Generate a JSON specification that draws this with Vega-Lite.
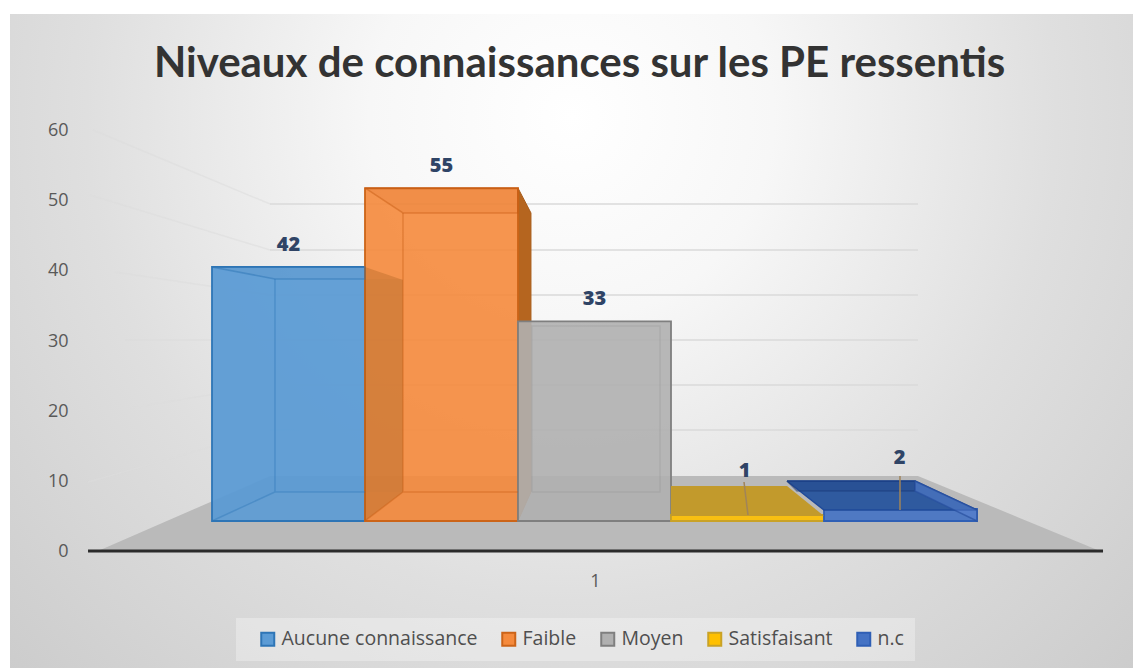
{
"$schema":"https://vega.github.io/schema/vega-lite/v6.json",
"width":1123,"height":654,
"autosize":{"type":"none"},
"padding":{"left":10,"top":14,"right":0,"bottom":0},
"background":"#ffffff",
"view":{"stroke":null,"fill":{"gradient":"radial","x1":0.5,"y1":0.3,"r1":0,"x2":0.5,"y2":0.3,"r2":0.72,"stops":[{"offset":0,"color":"#ffffff"},{"offset":0.25,"color":"#f7f7f7"},{"offset":0.6,"color":"#dfdfdf"},{"offset":0.8,"color":"#d5d5d5"},{"offset":1,"color":"#cbcbcb"}]}},
"title":{"text":"Niveaux de connaissances sur les PE ressentis","anchor":"middle","frame":"group","dx":8,"offset":-72,"font":"Lato","fontSize":42,"fontWeight":"bold","color":"#333333"},
"datasets":{
"barres":[
{"niveau":"Aucune connaissance","valeur":42},
{"niveau":"Faible","valeur":55},
{"niveau":"Moyen","valeur":33},
{"niveau":"Satisfaisant","valeur":1},
{"niveau":"n.c","valeur":2}],
"grille":[
{"g":60,"u":0.5752,"v":49.57},{"g":60,"u":1.4222,"v":49.57},
{"g":50,"u":0.5752,"v":43},{"g":50,"u":1.4222,"v":43},
{"g":40,"u":0.5752,"v":36.57},{"g":40,"u":1.4222,"v":36.57},
{"g":30,"u":0.5752,"v":30.14},{"g":30,"u":1.4222,"v":30.14},
{"g":20,"u":0.5752,"v":23.71},{"g":20,"u":1.4222,"v":23.71},
{"g":10,"u":0.5752,"v":17.29},{"g":10,"u":1.4222,"v":17.29}],
"fuyantes":[
{"g":60,"u":0.3438,"v":60.14},{"g":60,"u":0.5752,"v":49.57},
{"g":50,"u":0.3399,"v":50.86},{"g":50,"u":0.5752,"v":43},
{"g":40,"u":0.3725,"v":39.86},{"g":40,"u":0.5752,"v":36.57},
{"g":30,"u":0.3856,"v":30.14},{"g":30,"u":0.5752,"v":30.14},
{"g":20,"u":0.3922,"v":20.43},{"g":20,"u":0.5752,"v":23.71},
{"g":10,"u":0.3373,"v":9.86},{"g":10,"u":0.5752,"v":17.29}],
"fond":[
{"f":"sol","o":0,"u":0.3503,"v":0},{"f":"sol","o":1,"u":0.5752,"v":10.71},{"f":"sol","o":2,"u":1.4222,"v":10.71},{"f":"sol","o":3,"u":1.6601,"v":0},{"f":"sol","o":4,"u":0.3503,"v":0},
{"f":"fond bleu","o":0,"u":0.5817,"v":38.86},{"f":"fond bleu","o":1,"u":0.749,"v":38.86},{"f":"fond bleu","o":2,"u":0.749,"v":8.43},{"f":"fond bleu","o":3,"u":0.5817,"v":8.43},{"f":"fond bleu","o":4,"u":0.5817,"v":38.86},
{"f":"flanc bleu","o":0,"u":0.4993,"v":40.57},{"f":"flanc bleu","o":1,"u":0.5817,"v":38.86},{"f":"flanc bleu","o":2,"u":0.5817,"v":8.43},{"f":"flanc bleu","o":3,"u":0.4993,"v":4.29},{"f":"flanc bleu","o":4,"u":0.4993,"v":40.57},
{"f":"flanc orange","o":0,"u":0.8993,"v":51.86},{"f":"flanc orange","o":1,"u":0.9163,"v":48.29},{"f":"flanc orange","o":2,"u":0.9163,"v":8.43},{"f":"flanc orange","o":3,"u":0.8993,"v":4.29},{"f":"flanc orange","o":4,"u":0.8993,"v":51.86}],
"dessus":[
{"f":"haut bleu","o":0,"u":0.4993,"v":40.57},{"f":"haut bleu","o":1,"u":0.6993,"v":40.57},{"f":"haut bleu","o":2,"u":0.6993,"v":38.86},{"f":"haut bleu","o":3,"u":0.5817,"v":38.86},{"f":"haut bleu","o":4,"u":0.4993,"v":40.57},
{"f":"arete bleu","o":0,"u":0.4993,"v":4.29},{"f":"arete bleu","o":1,"u":0.5817,"v":8.43},{"f":"arete bleu","o":2,"u":0.5817,"v":38.86},{"f":"arete bleu","o":3,"u":0.5817,"v":8.43},{"f":"arete bleu","o":4,"u":0.6993,"v":8.43},
{"f":"ombre orange","o":0,"u":0.6993,"v":40.57},{"f":"ombre orange","o":1,"u":0.749,"v":38.71},{"f":"ombre orange","o":2,"u":0.749,"v":8.43},{"f":"ombre orange","o":3,"u":0.6993,"v":4.29},{"f":"ombre orange","o":4,"u":0.6993,"v":40.57},
{"f":"haut orange","o":0,"u":0.6993,"v":51.86},{"f":"haut orange","o":1,"u":0.8993,"v":51.86},{"f":"haut orange","o":2,"u":0.8993,"v":48.29},{"f":"haut orange","o":3,"u":0.749,"v":48.29},{"f":"haut orange","o":4,"u":0.6993,"v":51.86},
{"f":"arete orange","o":0,"u":0.6993,"v":4.29},{"f":"arete orange","o":1,"u":0.749,"v":8.43},{"f":"arete orange","o":2,"u":0.749,"v":48.29},{"f":"arete orange","o":3,"u":0.749,"v":8.43},{"f":"arete orange","o":4,"u":0.8993,"v":8.43},
{"f":"arete gris","o":0,"u":0.9176,"v":8.43},{"f":"arete gris","o":1,"u":0.9176,"v":32.14},{"f":"arete gris","o":2,"u":1.085,"v":32.14},{"f":"arete gris","o":3,"u":1.085,"v":8.43},{"f":"arete gris","o":4,"u":0.9176,"v":8.43},
{"f":"haut jaune","o":0,"u":1.0993,"v":5},{"f":"haut jaune","o":1,"u":1.2993,"v":5},{"f":"haut jaune","o":2,"u":1.251,"v":9.29},{"f":"haut jaune","o":3,"u":1.0993,"v":9.29},{"f":"haut jaune","o":4,"u":1.0993,"v":5},
{"f":"haut nc","o":0,"u":1.251,"v":10},{"f":"haut nc","o":1,"u":1.4183,"v":10},{"f":"haut nc","o":2,"u":1.4993,"v":5.86},{"f":"haut nc","o":3,"u":1.2993,"v":5.86},{"f":"haut nc","o":4,"u":1.251,"v":10},
{"f":"fond nc","o":0,"u":1.251,"v":10},{"f":"fond nc","o":1,"u":1.4183,"v":10},{"f":"fond nc","o":2,"u":1.4183,"v":8.57},{"f":"fond nc","o":3,"u":1.2641,"v":8.57},{"f":"fond nc","o":4,"u":1.251,"v":10},
{"f":"flanc nc","o":0,"u":1.4183,"v":10},{"f":"flanc nc","o":1,"u":1.4993,"v":5.86},{"f":"flanc nc","o":2,"u":1.4993,"v":4.29},{"f":"flanc nc","o":3,"u":1.4183,"v":8.57},{"f":"flanc nc","o":4,"u":1.4183,"v":10},
{"f":"repere 1","o":0,"u":1.1948,"v":9.86},{"f":"repere 1","o":1,"u":1.2,"v":5.14},
{"f":"repere 2","o":0,"u":1.3987,"v":10.71},{"f":"repere 2","o":1,"u":1.3987,"v":5.86}],
"axe":[{"u":0.3373,"v":0},{"u":1.6641,"v":0}]
},
"resolve":{"scale":{"x":"independent","y":"independent","fill":"independent","stroke":"independent"}},
"layer":[
{"data":{"name":"grille"},
 "mark":{"type":"line","strokeWidth":1.6,"color":"#dadada","clip":false},
 "encoding":{
  "x":{"field":"u","type":"quantitative","scale":{"domain":[0.2353,1.7033],"nice":false,"zero":false},"title":null,
   "axis":{"values":[1],"format":"d","orient":"bottom","offset":-96,"domain":false,"ticks":false,"grid":false,"labelPadding":0,"labelFont":"Open Sans","labelFontSize":18,"labelColor":"#595959","labelBaseline":"top"}},
  "y":{"field":"v","type":"quantitative","scale":{"domain":[-16.714,76.714],"nice":false,"zero":false},"title":null,
   "axis":{"values":[0,10,20,30,40,50,60],"orient":"left","offset":-63,"domain":false,"ticks":false,"grid":false,"labelPadding":5,"labelFont":"Open Sans","labelFontSize":18,"labelColor":"#595959"}},
  "detail":{"field":"g"}}},
{"data":{"name":"fuyantes"},
 "mark":{"type":"line","strokeWidth":1.4,"color":"#dcdcdc","opacity":0.55,"clip":false},
 "encoding":{
  "x":{"field":"u","type":"quantitative","scale":{"domain":[0.2353,1.7033],"nice":false,"zero":false},"axis":null},
  "y":{"field":"v","type":"quantitative","scale":{"domain":[-16.714,76.714],"nice":false,"zero":false},"axis":null},
  "detail":{"field":"g"}}},
{"data":{"name":"fond"},
 "mark":{"type":"line","strokeWidth":1,"clip":false},
 "encoding":{
  "x":{"field":"u","type":"quantitative","scale":{"domain":[0.2353,1.7033],"nice":false,"zero":false},"axis":null},
  "y":{"field":"v","type":"quantitative","scale":{"domain":[-16.714,76.714],"nice":false,"zero":false},"axis":null},
  "detail":{"field":"f"},"order":{"field":"o"},
  "fill":{"field":"f","type":"nominal","legend":null,"scale":{"domain":["sol","fond bleu","flanc bleu","flanc orange"],"range":["#bababa","rgba(70,130,190,0.35)","rgba(70,130,190,0.35)","#b5651f"]}},
  "stroke":{"field":"f","type":"nominal","legend":null,"scale":{"domain":["sol","fond bleu","flanc bleu","flanc orange"],"range":["rgba(0,0,0,0)","rgba(0,0,0,0)","rgba(0,0,0,0)","#a85c1a"]}}}},
{"data":{"name":"axe"},
 "mark":{"type":"line","strokeWidth":3,"color":"#2b2b2b","clip":false},
 "encoding":{
  "x":{"field":"u","type":"quantitative","scale":{"domain":[0.2353,1.7033],"nice":false,"zero":false},"axis":null},
  "y":{"field":"v","type":"quantitative","scale":{"domain":[-16.714,76.714],"nice":false,"zero":false},"axis":null}}},
{"data":{"name":"barres"},
 "mark":{"type":"bar","fillOpacity":0.9,"strokeWidth":1.8,"strokeOpacity":1,"clip":false},
 "encoding":{
  "x":{"field":"niveau","type":"nominal","sort":null,"axis":null,"scale":{"domain":["Aucune connaissance","Faible","Moyen","Satisfaisant","n.c"],"range":[202,967],"paddingInner":0,"paddingOuter":0}},
  "y":{"field":"valeur","type":"quantitative","axis":null,"scale":{"domain":[-24.3,83.8],"nice":false,"zero":false}},
  "fill":{"field":"niveau","type":"nominal","sort":null,"title":null,
   "scale":{"domain":["Aucune connaissance","Faible","Moyen","Satisfaisant","n.c"],"range":["#5b9bd5","#f58a3c","#b0b0b0","#ffc000","#4472c4"]},
   "legend":{"orient":"none","legendX":226,"legendY":604,"direction":"horizontal","columns":5,"symbolType":"square","symbolSize":169,"symbolStrokeWidth":2,"symbolOpacity":1,"symbolOffset":11,"labelFont":"Open Sans","labelFontSize":19.5,"labelLimit":300,"labelColor":"#4f4f4f","labelOffset":4,"columnPadding":10,"padding":11,"fillColor":"rgba(255,255,255,0.3)"}},
  "stroke":{"field":"niveau","type":"nominal","sort":null,"title":null,
   "scale":{"domain":["Aucune connaissance","Faible","Moyen","Satisfaisant","n.c"],"range":["#2e75b6","#cc6418","#7f7f7f","#c9a227","#2f5fb5"]},
   "legend":{"orient":"none","legendX":226,"legendY":604,"direction":"horizontal","columns":5,"symbolType":"square","symbolSize":169,"symbolStrokeWidth":2,"symbolOpacity":1,"symbolOffset":11,"labelFont":"Open Sans","labelFontSize":19.5,"labelLimit":300,"labelColor":"#4f4f4f","labelOffset":4,"columnPadding":10,"padding":11,"fillColor":"rgba(255,255,255,0.3)"}}}},
{"data":{"name":"dessus"},
 "mark":{"type":"line","strokeWidth":1.5,"clip":false},
 "encoding":{
  "x":{"field":"u","type":"quantitative","scale":{"domain":[0.2353,1.7033],"nice":false,"zero":false},"axis":null},
  "y":{"field":"v","type":"quantitative","scale":{"domain":[-16.714,76.714],"nice":false,"zero":false},"axis":null},
  "detail":{"field":"f"},"order":{"field":"o"},
  "fill":{"field":"f","type":"nominal","legend":null,"scale":{
   "domain":["haut bleu","arete bleu","ombre orange","haut orange","arete orange","arete gris","haut jaune","haut nc","fond nc","flanc nc","repere 1","repere 2"],
   "range":["rgba(46,117,182,0.12)","rgba(0,0,0,0)","rgba(150,85,20,0.28)","rgba(197,90,17,0.1)","rgba(0,0,0,0)","rgba(0,0,0,0)","#c29a2c","#2f5a9f","rgba(25,55,120,0.25)","rgba(90,130,210,0.5)","rgba(0,0,0,0)","rgba(0,0,0,0)"]}},
  "stroke":{"field":"f","type":"nominal","legend":null,"scale":{
   "domain":["haut bleu","arete bleu","ombre orange","haut orange","arete orange","arete gris","haut jaune","haut nc","fond nc","flanc nc","repere 1","repere 2"],
   "range":["rgba(46,117,182,0.5)","rgba(46,117,182,0.4)","rgba(0,0,0,0)","rgba(197,90,17,0.45)","rgba(197,90,17,0.4)","rgba(127,127,127,0.18)","rgba(0,0,0,0)","#1f4a9a","rgba(25,55,120,0.5)","rgba(40,80,160,0.7)","#a0845a","#a0845a"]}}}},
{"data":{"name":"barres"},
 "transform":[{"filter":"datum.valeur>=10"}],
 "mark":{"type":"text","font":"Open Sans","fontSize":20,"fontWeight":800,"color":"#2f4466","dy":-22},
 "encoding":{
  "x":{"field":"niveau","type":"nominal","sort":null,"axis":null,"scale":{"domain":["Aucune connaissance","Faible","Moyen","Satisfaisant","n.c"],"range":[202,967],"paddingInner":0,"paddingOuter":0}},
  "y":{"field":"valeur","type":"quantitative","axis":null,"scale":{"domain":[-24.3,83.8],"nice":false,"zero":false}},
  "text":{"field":"valeur","type":"quantitative"}}},
{"data":{"name":"barres"},
 "transform":[{"filter":"datum.valeur==1"}],
 "mark":{"type":"text","font":"Open Sans","fontSize":20,"fontWeight":800,"color":"#2f4466","dy":-44,"dx":-3},
 "encoding":{
  "x":{"field":"niveau","type":"nominal","sort":null,"axis":null,"scale":{"domain":["Aucune connaissance","Faible","Moyen","Satisfaisant","n.c"],"range":[202,967],"paddingInner":0,"paddingOuter":0}},
  "y":{"field":"valeur","type":"quantitative","axis":null,"scale":{"domain":[-24.3,83.8],"nice":false,"zero":false}},
  "text":{"field":"valeur","type":"quantitative"}}},
{"data":{"name":"barres"},
 "transform":[{"filter":"datum.valeur==2"}],
 "mark":{"type":"text","font":"Open Sans","fontSize":20,"fontWeight":800,"color":"#2f4466","dy":-51,"dx":-1},
 "encoding":{
  "x":{"field":"niveau","type":"nominal","sort":null,"axis":null,"scale":{"domain":["Aucune connaissance","Faible","Moyen","Satisfaisant","n.c"],"range":[202,967],"paddingInner":0,"paddingOuter":0}},
  "y":{"field":"valeur","type":"quantitative","axis":null,"scale":{"domain":[-24.3,83.8],"nice":false,"zero":false}},
  "text":{"field":"valeur","type":"quantitative"}}}
]
}
